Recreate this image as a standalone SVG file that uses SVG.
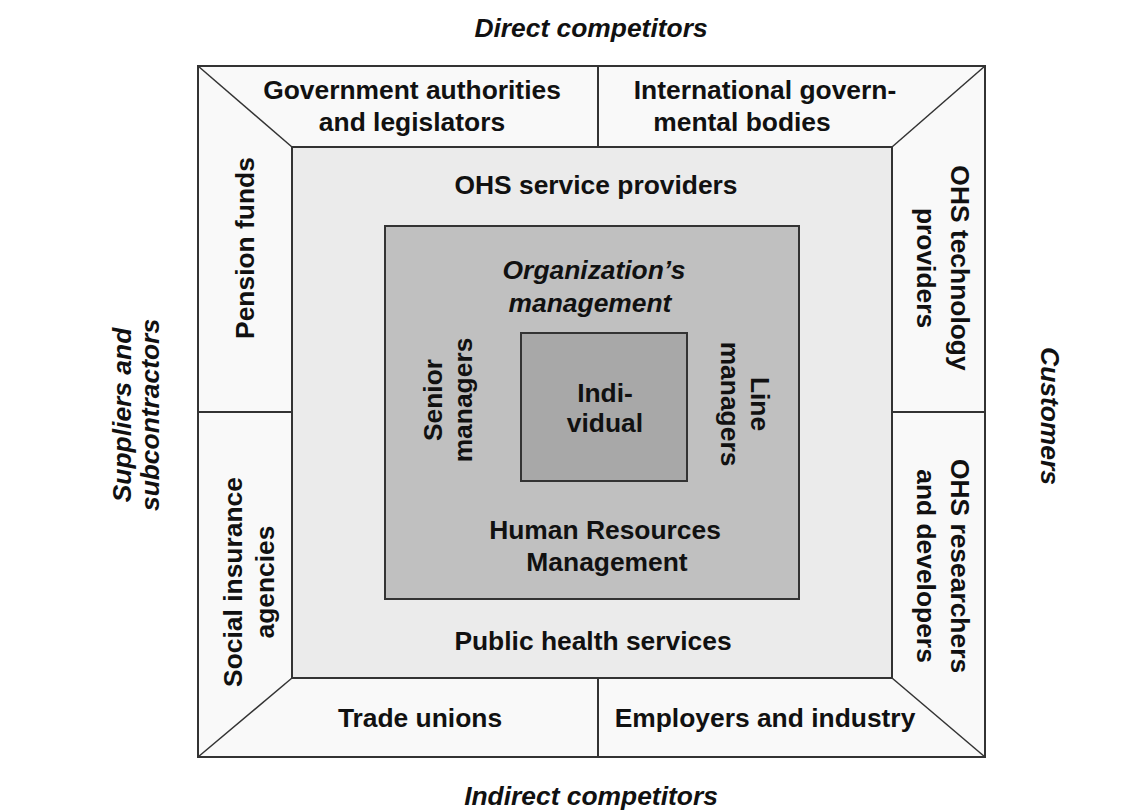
<svg xmlns="http://www.w3.org/2000/svg" width="1140" height="810" viewBox="0 0 1140 810">
<style>
.t{font-family:"Liberation Sans",Arial,sans-serif;font-weight:bold;font-size:26.4px;fill:#111;text-anchor:middle;dominant-baseline:central}
.i{font-style:italic}
.b{stroke:#333;stroke-width:2}
</style>
<rect width="1140" height="810" fill="#fff"/>
<g id="outer">
<rect x="198" y="66" width="787" height="691" fill="#f9f9f9" class="b"/>
</g>
<g id="connectors" fill="none" stroke="#333" stroke-width="1.5">
<line x1="198" y1="66" x2="292" y2="147"/>
<line x1="985" y1="66" x2="892" y2="147"/>
<line x1="198" y1="757" x2="292" y2="678"/>
<line x1="985" y1="757" x2="892" y2="678"/>
<line x1="598" y1="66" x2="598" y2="147" stroke-width="2"/>
<line x1="598" y1="678" x2="598" y2="757" stroke-width="2"/>
<line x1="198" y1="412" x2="292" y2="412" stroke-width="2"/>
<line x1="892" y1="412" x2="985" y2="412" stroke-width="2"/>
</g>
<g id="ring2">
<rect x="292" y="147" width="600" height="531" fill="#ebebeb" class="b"/>
</g>
<g id="ring3">
<rect x="385" y="226" width="414" height="373" fill="#c0c0c0" class="b"/>
</g>
<g id="individual">
<rect x="521" y="333" width="166" height="148" fill="#a8a8a8" class="b"/>
<text class="t" x="605" y="393">Indi-</text>
<text class="t" x="605" y="423">vidual</text>
</g>
<g id="direct-competitors"><text class="t i" x="591" y="28">Direct competitors</text></g>
<g id="indirect-competitors"><text class="t i" x="591" y="796">Indirect competitors</text></g>
<g id="suppliers">
<text class="t i" transform="translate(122,415) rotate(-90)">Suppliers and</text>
<text class="t i" transform="translate(150,415) rotate(-90)">subcontractors</text>
</g>
<g id="customers"><text class="t i" transform="translate(1050,416) rotate(90)">Customers</text></g>
<g id="gov"><text class="t" x="412" y="90">Government authorities</text><text class="t" x="412" y="122">and legislators</text></g>
<g id="intl"><text class="t" x="765" y="90">International govern-</text><text class="t" x="742" y="122">mental bodies</text></g>
<g id="pension"><text class="t" transform="translate(245,248) rotate(-90)">Pension funds</text></g>
<g id="social"><text class="t" transform="translate(233,582) rotate(-90)">Social insurance</text><text class="t" transform="translate(265,582) rotate(-90)">agencies</text></g>
<g id="ohs-tech"><text class="t" transform="translate(960,268) rotate(90)">OHS technology</text><text class="t" transform="translate(926,268) rotate(90)">providers</text></g>
<g id="ohs-res"><text class="t" transform="translate(960,566) rotate(90)">OHS researchers</text><text class="t" transform="translate(926,566) rotate(90)">and developers</text></g>
<g id="trade"><text class="t" x="420" y="718">Trade unions</text></g>
<g id="employers"><text class="t" x="765" y="718">Employers and industry</text></g>
<g id="ohs-service"><text class="t" x="596" y="185">OHS service providers</text></g>
<g id="public-health"><text class="t" x="593" y="641">Public health services</text></g>
<g id="org-mgmt"><text class="t i" x="594" y="270">Organization’s</text><text class="t i" x="590" y="303">management</text></g>
<g id="senior"><text class="t" transform="translate(433,400) rotate(-90)">Senior</text><text class="t" transform="translate(463,400) rotate(-90)">managers</text></g>
<g id="line-mgr"><text class="t" transform="translate(760,404) rotate(90)">Line</text><text class="t" transform="translate(730,404) rotate(90)">managers</text></g>
<g id="hrm"><text class="t" x="605" y="530">Human Resources</text><text class="t" x="607" y="562">Management</text></g>
</svg>
